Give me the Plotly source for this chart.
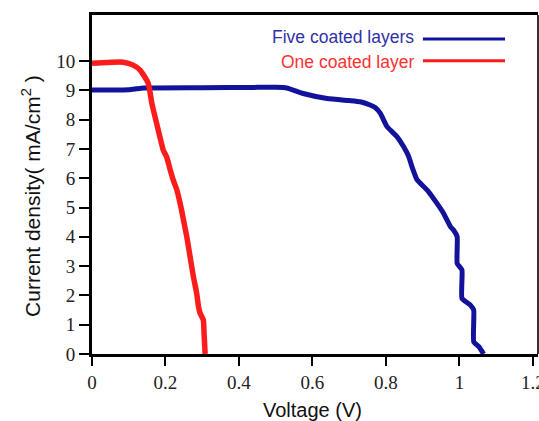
import plotly.graph_objects as go

# J-V curves of the coated cells
five_v = [0, 0.05, 0.10, 0.12, 0.14, 0.30, 0.45, 0.50, 0.53, 0.575, 0.64, 0.70, 0.73,
          0.757, 0.77, 0.785, 0.803, 0.83, 0.848, 0.862, 0.871, 0.885, 0.912, 0.939,
          0.957, 0.976, 0.984, 0.994, 0.994, 1.007, 1.007, 1.03, 1.039, 1.039, 1.053, 1.066]
five_j = [9.01, 9.01, 9.02, 9.05, 9.08, 9.09, 9.1, 9.1, 9.08, 8.89, 8.72, 8.65, 8.61,
          8.5, 8.42, 8.21, 7.76, 7.42, 7.08, 6.74, 6.39, 5.94, 5.6, 5.14,
          4.8, 4.34, 4.23, 4.0, 3.09, 2.87, 1.9, 1.67, 1.5, 0.42, 0.25, 0.0]

one_v = [0, 0.04, 0.085, 0.112, 0.131, 0.153, 0.163, 0.176, 0.194, 0.203, 0.213, 0.221,
         0.231, 0.244, 0.249, 0.258, 0.267, 0.276, 0.285, 0.29, 0.294, 0.303, 0.305, 0.308]
one_j = [9.92, 9.95, 9.96, 9.86, 9.69, 9.24, 8.55, 7.87, 6.96, 6.73, 6.28, 5.94,
         5.6, 4.9, 4.57, 4.0, 3.32, 2.64, 2.07, 1.61, 1.4, 1.16, 0.71, 0.0]

x_ticks = [0, 0.2, 0.4, 0.6, 0.8, 1.0, 1.2]
x_tick_text = ["0", "0.2", "0.4", "0.6", "0.8", "1", "1.2"]
y_ticks = list(range(0, 11))

series_names = ["Five coated layers", "One coated layer"]
BLUE = "#12129a"
RED = "#fb1c1c"

fig = go.Figure()
fig.add_trace(go.Scatter(x=five_v, y=five_j, mode="lines", name=series_names[0],
                         line=dict(color=BLUE, width=5, shape="spline", smoothing=0.4)))
fig.add_trace(go.Scatter(x=one_v, y=one_j, mode="lines", name=series_names[1],
                         line=dict(color=RED, width=5.5, shape="spline", smoothing=0.5)))

tick_font = dict(family="Liberation Serif, Times New Roman, serif", size=19, color="#222")
title_font = dict(family="Liberation Sans, Arial, sans-serif", size=20, color="#111")

fig.update_layout(
    width=539, height=421,
    margin=dict(l=92, r=1, t=15, b=67),
    paper_bgcolor="white", plot_bgcolor="white",
    showlegend=False,
    xaxis=dict(range=[0, 1.214], tickvals=x_ticks, ticktext=x_tick_text,
               showgrid=False, zeroline=False, showline=True, linecolor="black",
               linewidth=3, mirror=True, ticks="outside", ticklen=9, tickwidth=2,
               tickcolor="black", tickfont=tick_font, automargin=False,
               ticklabeloverflow="allow"),
    yaxis=dict(range=[0, 11.57], tickvals=y_ticks, showgrid=False, zeroline=False,
               showline=True, linecolor="black", linewidth=3, ticks="outside",
               ticklen=10, tickwidth=2, tickcolor="black", tickfont=tick_font,
               automargin=False),
)

# right border of the frame
fig.add_shape(type="line", xref="paper", yref="paper", x0=1, x1=1, y0=0, y1=1,
              line=dict(color="#333", width=2))

# axis titles
fig.add_annotation(text="Voltage (V)", xref="paper", yref="paper", x=0.495, y=-0.165,
                   xanchor="center", yanchor="middle", showarrow=False, font=title_font)
fig.add_annotation(text="Current density( mA/cm<sup>2</sup> )", xref="paper", yref="paper",
                   x=-0.137, y=0.466, textangle=-90, xanchor="center", yanchor="middle",
                   showarrow=False, font=dict(title_font, size=21))

# in-plot key: label followed by a line sample
key_rows = [(series_names[0], BLUE, "#3030a8", 0.935, 0.929),
            (series_names[1], RED, "#ff3030", 0.862, 0.865)]
for name, lc, tc, ty, ly in key_rows:
    fig.add_annotation(text=name, xref="paper", yref="paper", x=0.726, y=ty,
                       xanchor="right", yanchor="middle", showarrow=False,
                       font=dict(family="Liberation Sans, Arial, sans-serif", size=17.5, color=tc))
    fig.add_shape(type="line", xref="paper", yref="paper", x0=0.742, x1=0.926,
                  y0=ly, y1=ly, line=dict(color=lc, width=3))

fig.write_html("out.html")
